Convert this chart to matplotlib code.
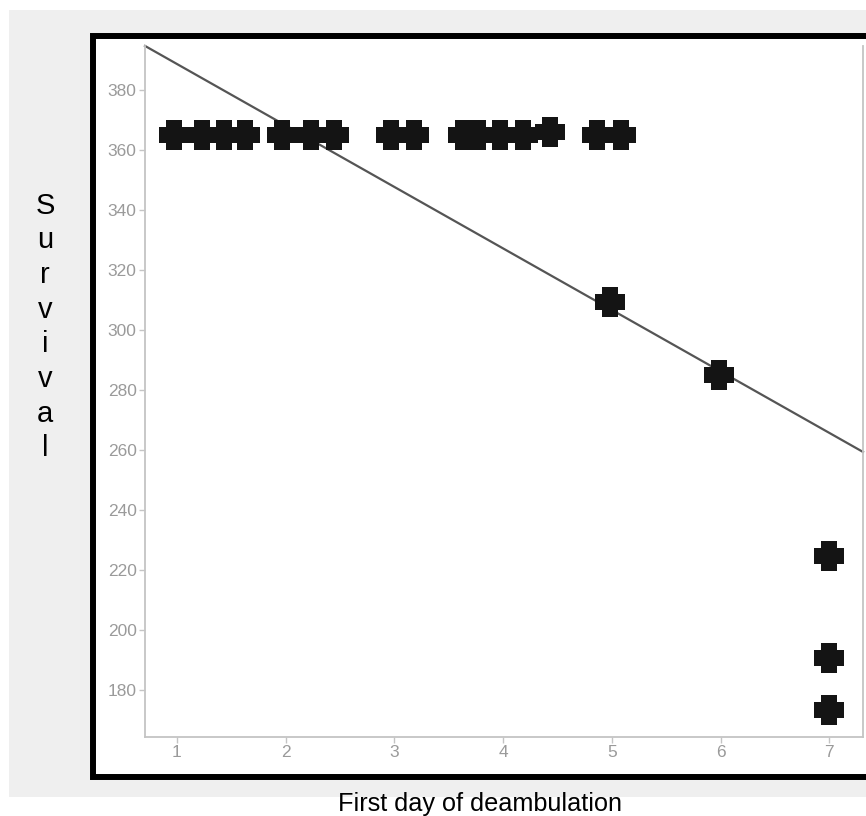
import numpy as np
import matplotlib
matplotlib.use('Agg')
from matplotlib import pyplot as plt
from matplotlib.patches import Rectangle
from matplotlib.path import Path

# data
day = [0.97, 1.23, 1.43, 1.63, 1.97, 2.23, 2.44, 2.97, 3.18,
       3.63, 3.77, 3.97, 4.18, 4.43, 4.86, 5.08,
       4.98, 5.99, 7.0, 7.0, 7.0]
survival = [365, 365, 365, 365, 365, 365, 365, 365, 365,
            365, 365, 365, 365, 366, 365, 365,
            309.5, 285, 224.7, 190.5, 173.3]
fit_intercept = 409.2
fit_slope = -20.5
yticks = [180, 200, 220, 240, 260, 280, 300, 320, 340, 360, 380]
xticks = [1, 2, 3, 4, 5, 6, 7]

W, H = 866, 816
fig = plt.figure(figsize=(W / 100, H / 100), dpi=100, facecolor='white')

def box(x0, y0, x1, y1):
    # pixel box -> figure fraction
    return [x0 / W, 1 - y1 / H, (x1 - x0) / W, (y1 - y0) / H]

b = box(9, 10, 866, 797)
fig.patches.append(Rectangle((b[0], b[1]), b[2], b[3], transform=fig.transFigure,
                             facecolor='#efefef', edgecolor='none', zorder=0))
b = box(92.5, 35.5, 870, 776.5)
fig.patches.append(Rectangle((b[0], b[1]), b[2], b[3], transform=fig.transFigure,
                             facecolor='white', edgecolor='black', linewidth=4.3, zorder=1))

ax = fig.add_axes(box(145, 46, 863, 737))
ax.set_facecolor('none')
ax.set_zorder(5)

# fat plus marker
a = 0.26
plus = Path([(-a, -0.5), (-a, -a), (-0.5, -a), (-0.5, a), (-a, a),
             (-a, 0.5), (a, 0.5), (a, a), (0.5, a), (0.5, -a),
             (a, -a), (a, -0.5), (-a, -0.5)], closed=True)

x0, x1 = 0.706, 7.31
ax.plot([x0, x1], [fit_intercept + fit_slope * x0, fit_intercept + fit_slope * x1],
        color='#555555', linewidth=1.6, zorder=2, clip_on=False)
ax.plot(day, survival, linestyle='none', marker=plus, markersize=21.5,
        color='#141414', markeredgewidth=0, zorder=3, clip_on=False)

ax.set_xlim(x0, x1)
ax.set_ylim(164.3, 394.7)
ax.set_xticks(xticks)
ax.set_yticks(yticks)

ax.spines['top'].set_visible(False)
for s in ['left', 'bottom', 'right']:
    ax.spines[s].set_color('#c4c4c4')
    ax.spines[s].set_linewidth(1.3)
ax.tick_params(colors='#c4c4c4', labelcolor='#9a9a9a', labelsize=12.5, length=4, width=1, pad=2)
ax.tick_params(axis='y', right=False)
for lab in ax.get_xticklabels() + ax.get_yticklabels():
    lab.set_family('Liberation Sans')

fig.text(338 / W, 1 - 804 / H, 'First day of deambulation', fontsize=18.2,
         family='Liberation Sans', ha='left', va='center')
fig.text(45 / W, 1 - 327 / H, '\n'.join('Survival'), fontsize=21,
         family='Liberation Sans', ha='center', va='center', linespacing=1.3)

plt.savefig('out.png', dpi=100, facecolor='white')
